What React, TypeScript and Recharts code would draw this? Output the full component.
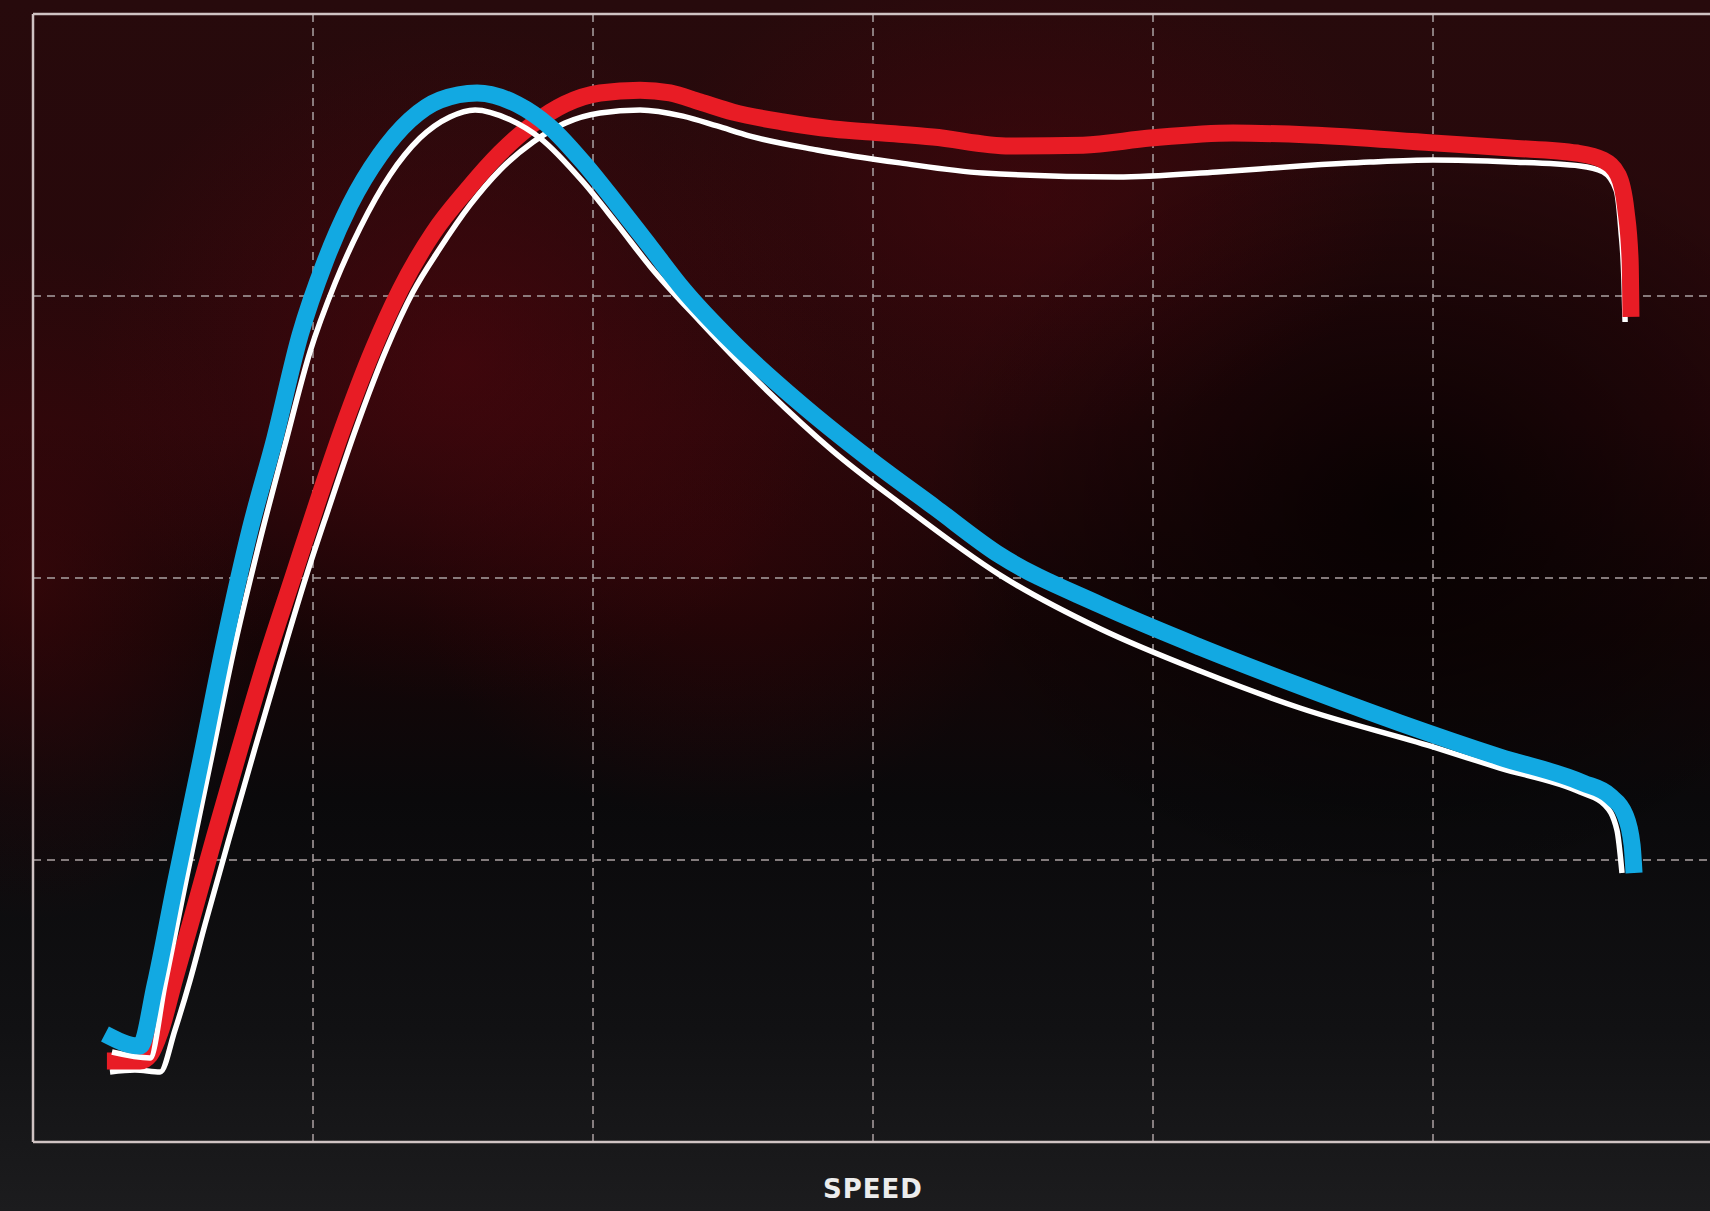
import { LineChart, Line, XAxis, YAxis, ReferenceLine } from "recharts";

// speed vs output, tuned (coloured) and stock (white) curves
const SPEED_TICKS = [0, 1000, 2000, 3000, 4000, 5000, 6000];
const LEVEL_TICKS = [0, 100, 200, 300, 400];

const BLUE_TUNED: [number, number][] = [
  [257, 38.3], [382, 34.0], [436, 55.7], [507, 91.1], [596, 133.7], [686, 178.0],
  [775, 217.0], [864, 249.6], [954, 286.2], [1043, 312.1], [1132, 332.3], [1239, 350.0],
  [1346, 362.4], [1454, 369.5], [1586, 372.0], [1729, 368.0], [1846, 360.0], [1964, 347.5],
  [2086, 332.5], [2204, 317.5], [2321, 302.5], [2500, 283.5], [2739, 262.0], [2989, 242.0],
  [3221, 225.0], [3454, 208.0], [3811, 190.5], [4168, 175.5], [4525, 161.7], [4882, 148.6],
  [5239, 136.5], [5536, 127.3], [5632, 122.7], [5686, 116.0], [5711, 105.3], [5718, 95.4],
];

const BLUE_STOCK: [number, number][] = [
  [282, 31.9], [418, 29.8], [471, 55.7], [543, 91.1], [632, 133.7], [721, 176.2],
  [811, 213.5], [900, 247.2], [989, 280.1], [1079, 304.6], [1168, 324.1], [1275, 342.9],
  [1382, 356.0], [1489, 363.5], [1579, 366.0], [1704, 362.5], [1811, 356.0], [1964, 340.5],
  [2086, 325.5], [2204, 310.5], [2382, 291.0], [2621, 266.5], [2857, 245.0], [3096, 226.5],
  [3454, 201.0], [3811, 182.0], [4168, 167.0], [4525, 153.9], [5000, 140.1], [5239, 132.6],
  [5525, 124.1], [5614, 119.5], [5657, 110.6], [5675, 95.4],
];

const RED_TUNED: [number, number][] = [
  [264, 28.7], [382, 28.7], [418, 30.9], [454, 39.0], [507, 58.2], [561, 77.0],
  [650, 108.9], [739, 139.7], [829, 169.9], [929, 200.4], [1007, 224.1], [1107, 253.2],
  [1214, 280.9], [1311, 302.1], [1429, 322.3], [1550, 337.6], [1668, 350.7], [1786, 361.0],
  [1900, 368.1], [2025, 372.0], [2168, 373.0], [2275, 372.0], [2382, 368.8], [2500, 365.2],
  [2679, 361.7], [2857, 359.2], [3036, 357.8], [3214, 356.4], [3489, 353.2], [3750, 353.5],
  [3989, 356.0], [4286, 357.8], [4561, 357.1], [5000, 354.3], [5275, 352.5], [5514, 350.7],
  [5607, 348.2], [5661, 342.9], [5689, 330.5], [5704, 312.8], [5707, 292.6],
];

const RED_STOCK: [number, number][] = [
  [275, 24.8], [364, 25.5], [454, 24.8], [507, 39.7], [561, 57.4], [614, 77.0],
  [704, 108.9], [793, 139.7], [882, 169.9], [975, 200.4], [1054, 224.1], [1154, 253.2],
  [1261, 280.9], [1357, 301.4], [1454, 317.0], [1561, 332.3], [1668, 344.7], [1786, 354.6],
  [1900, 361.3], [2025, 364.9], [2168, 366.0], [2321, 363.8], [2443, 360.3], [2561, 356.7],
  [2800, 351.8], [3096, 347.2], [3393, 343.6], [3871, 342.2], [4229, 344.0], [4525, 346.1],
  [4775, 347.5], [5000, 348.2], [5275, 347.5], [5525, 346.1], [5607, 344.0], [5654, 337.6],
  [5671, 323.4], [5682, 305.7], [5686, 290.8],
];

const toRows = (pts: [number, number][]) => pts.map(([x, y]) => ({ x, y }));

const BORDER = "#cfc3c3";
const GRID = "#a3999a";

const background = [
  "radial-gradient(ellipse 22% 28% at 27% 30%, rgba(85,6,14,0.5), rgba(85,6,14,0) 100%)",
  "radial-gradient(ellipse 22% 20% at 60% 16%, rgba(78,5,12,0.45), rgba(78,5,12,0) 100%)",
  "radial-gradient(ellipse 18% 22% at 42% 46%, rgba(68,5,10,0.4), rgba(68,5,10,0) 100%)",
  "radial-gradient(ellipse 28% 32% at 82% 42%, rgba(0,0,0,0.75), rgba(0,0,0,0) 100%)",
  "radial-gradient(ellipse 14% 28% at 2% 48%, rgba(68,7,11,0.55), rgba(68,7,11,0) 100%)",
  "linear-gradient(to bottom, #270a0c 0%, #28070a 35%, #150506 52%, #0a090b 66%, #111113 85%, #1c1c1e 100%)",
].join(", ");

const lineProps = { dataKey: "y", type: "monotone" as const, dot: false, activeDot: false, isAnimationActive: false };

export default function App() {
  return (
    <div
      style={{
        position: "absolute",
        left: 0,
        top: 0,
        width: 1710,
        height: 1211,
        overflow: "hidden",
        background,
      }}
    >
      <LineChart width={1720} height={1211} margin={{ top: 14, right: 7, bottom: 69, left: 33 }}>
        <XAxis
          type="number"
          dataKey="x"
          domain={[0, 6000]}
          ticks={SPEED_TICKS}
          height={0}
          tick={false}
          tickLine={false}
          axisLine={false}
          allowDataOverflow
        />
        <YAxis
          type="number"
          dataKey="y"
          domain={[0, 400]}
          ticks={LEVEL_TICKS}
          width={0}
          tick={false}
          tickLine={false}
          axisLine={false}
          allowDataOverflow
        />
        {SPEED_TICKS.slice(1).map((t) => (
          <ReferenceLine key={`v${t}`} x={t} stroke={GRID} strokeWidth={2} strokeDasharray="8 6" strokeOpacity={0.8} />
        ))}
        {LEVEL_TICKS.slice(1, -1).map((t) => (
          <ReferenceLine key={`h${t}`} y={t} stroke={GRID} strokeWidth={2} strokeDasharray="8 6" strokeOpacity={0.8} />
        ))}
        <ReferenceLine y={0} stroke={BORDER} strokeWidth={2.5} />
        <ReferenceLine y={400} stroke={BORDER} strokeWidth={2.5} />
        <ReferenceLine x={0} stroke={BORDER} strokeWidth={2.5} />

        <Line {...lineProps} data={toRows(RED_STOCK)} stroke="#ffffff" strokeWidth={5.5} />
        <Line {...lineProps} data={toRows(RED_TUNED)} stroke="#e81c25" strokeWidth={17} />
        <Line {...lineProps} data={toRows(BLUE_STOCK)} stroke="#ffffff" strokeWidth={5.5} />
        <Line {...lineProps} data={toRows(BLUE_TUNED)} stroke="#12a9e2" strokeWidth={17} />
      </LineChart>
      <div
        style={{
          position: "absolute",
          left: 873,
          top: 1170,
          transform: "translateX(-50%)",
          color: "#ececec",
          fontFamily: "'DejaVu Sans', sans-serif",
          fontWeight: 700,
          fontSize: 26,
          letterSpacing: 1,
          lineHeight: "38px",
        }}
      >
        SPEED
      </div>
    </div>
  );
}
